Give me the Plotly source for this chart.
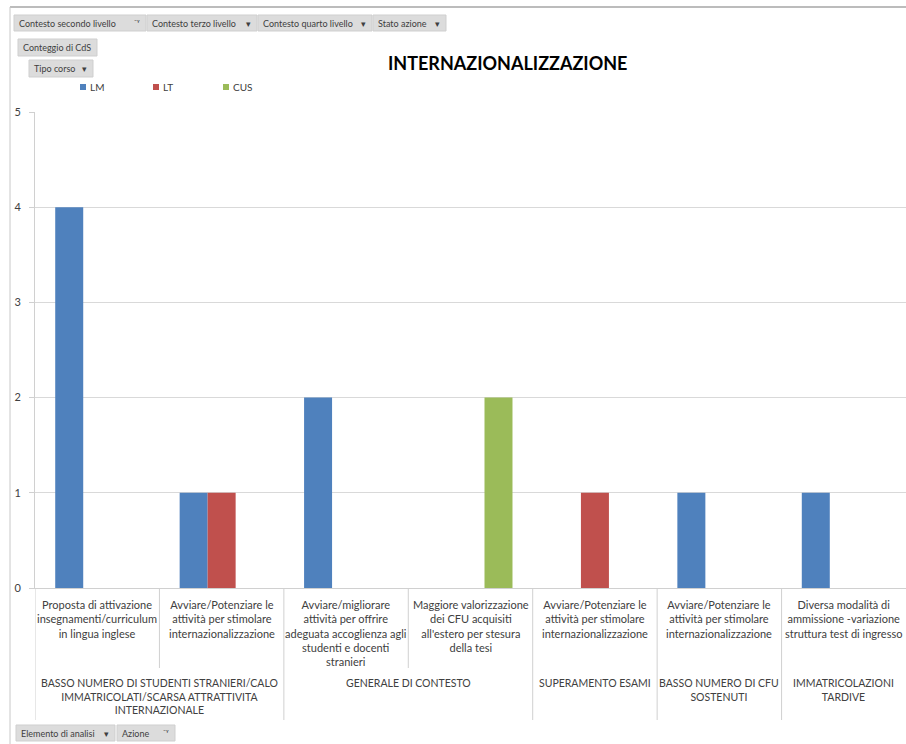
import plotly.graph_objects as go

# ---------------- data ----------------
inner_labels = [
    "Proposta di attivazione<br>insegnamenti/curriculum<br>in lingua inglese",
    "Avviare/Potenziare le<br>attività per stimolare<br>internazionalizzazione",
    "Avviare/migliorare<br>attività per offrire<br>adeguata accoglienza agli<br>studenti e docenti<br>stranieri",
    "Maggiore valorizzazione<br>dei CFU acquisiti<br>all'estero per stesura<br>della tesi",
    "Avviare/Potenziare le<br>attività per stimolare<br>internazionalizzazione",
    "Avviare/Potenziare le<br>attività per stimolare<br>internazionalizzazione",
    "Diversa modalità di<br>ammissione -variazione<br>struttura test di ingresso",
]
outer_labels = [
    "BASSO NUMERO DI STUDENTI STRANIERI/CALO<br>IMMATRICOLATI/SCARSA ATTRATTIVITA<br>INTERNAZIONALE",
    "GENERALE DI CONTESTO",
    "SUPERAMENTO ESAMI",
    "BASSO NUMERO DI CFU<br>SOSTENUTI",
    "IMMATRICOLAZIONI<br>TARDIVE",
]
outer_span = [2, 2, 1, 1, 1]  # number of inner categories per outer group

series_names = ["LM", "LT", "CUS"]
lm_values = [4, 1, 2, None, None, 1, 1]
lt_values = [None, 1, None, None, 1, None, None]
cus_values = [None, None, None, 2, None, None, None]
series_colors = ["#4F81BD", "#C0504D", "#9BBB59"]

y_tick_values = [0, 1, 2, 3, 4, 5]

# ---------------- layout geometry ----------------
W, H = 906, 744
ML, MR, MT, MB = 35, 0, 112, 156
PW, PH = W - ML - MR, H - MT - MB


def px(x):
    return (x - ML) / PW


def py(y):
    return (H - MB - y) / PH


FONT = "Lato, 'Liberation Sans', sans-serif"
xs = list(range(len(inner_labels)))

fig = go.Figure()
for name, vals, col in zip(series_names, [lm_values, lt_values, cus_values], series_colors):
    fig.add_trace(go.Bar(x=xs, y=vals, name=name, marker=dict(color=col, line=dict(width=0)),
                         showlegend=False))

shapes = []
annotations = []

# inner category labels
for i, lab in enumerate(inner_labels):
    annotations.append(dict(x=i, xref="x", y=0, yref="paper", yshift=-8, yanchor="top",
                            text=lab, showarrow=False, align="center",
                            font=dict(family=FONT, size=11, color="#404040")))

# outer labels and dividers
start = 0
outer_bounds = [-0.5]
for lab, span in zip(outer_labels, outer_span):
    center = start + (span - 1) / 2
    annotations.append(dict(x=center, xref="x", y=0, yref="paper", yshift=-87, yanchor="top",
                            text=lab, showarrow=False, align="center",
                            font=dict(family=FONT, size=10.5, color="#404040")))
    start += span
    outer_bounds.append(start - 0.5)

inner_bounds = [b + 0.5 for b in range(len(inner_labels) - 1) if (b + 0.5) not in outer_bounds]
for b in outer_bounds[:-1]:
    shapes.append(dict(type="line", xref="x", yref="paper", x0=b, x1=b, y0=0, y1=py(720),
                       line=dict(color="#D0D0D0", width=1)))
for b in inner_bounds:
    shapes.append(dict(type="line", xref="x", yref="paper", x0=b, x1=b, y0=0, y1=py(668),
                       line=dict(color="#D0D0D0", width=1)))

# outer frame
shapes.append(dict(type="line", xref="paper", yref="paper", x0=px(10), x1=px(906), y0=py(7), y1=py(7),
                   line=dict(color="#A6A6A6", width=1.5)))
shapes.append(dict(type="line", xref="paper", yref="paper", x0=px(10), x1=px(10), y0=py(7), y1=py(744),
                   line=dict(color="#C8C8C8", width=1)))

# field buttons
buttons = [
    ("Contesto secondo livello", 14, 146, 15, 31, "⁻ᵞ"),
    ("Contesto terzo livello", 147, 257, 15, 31, "▾"),
    ("Contesto quarto livello", 258, 372, 15, 31, "▾"),
    ("Stato azione", 373, 446, 15, 31, "▾"),
    ("Conteggio di CdS", 18, 97, 39, 56, ""),
    ("Tipo corso", 29, 93, 60, 77, "▾"),
    ("Elemento di analisi", 16, 115, 725, 741, "▾"),
    ("Azione", 117, 175, 725, 741, "⁻ᵞ"),
]
for text, x0, x1, y0, y1, icon in buttons:
    shapes.append(dict(type="rect", xref="paper", yref="paper", x0=px(x0), x1=px(x1), y0=py(y1), y1=py(y0),
                       fillcolor="#DCDCDC", line=dict(color="#CFCFCF", width=1), layer="below"))
    annotations.append(dict(x=px(x0 + 3), y=py((y0 + y1) / 2), xref="paper", yref="paper",
                            xanchor="left", yanchor="middle", text=text, showarrow=False,
                            font=dict(family=FONT, size=9, color="#404040")))
    if icon:
        annotations.append(dict(x=px(x1 - 4), y=py((y0 + y1) / 2), xref="paper", yref="paper",
                                xanchor="right", yanchor="middle", text=icon, showarrow=False,
                                font=dict(family=FONT, size=9, color="#404040")))

# legend (Excel style)
legend_x = [80, 153, 223]
for name, col, lx in zip(series_names, series_colors, legend_x):
    shapes.append(dict(type="rect", xref="paper", yref="paper", x0=px(lx), x1=px(lx + 6),
                       y0=py(90), y1=py(84), fillcolor=col, line=dict(width=0)))
    annotations.append(dict(x=px(lx + 8), y=py(87), xref="paper", yref="paper", xanchor="left",
                            yanchor="middle", text=name, showarrow=False,
                            font=dict(family=FONT, size=10, color="#404040")))

# title
annotations.append(dict(x=px(507), y=py(63), xref="paper", yref="paper", xanchor="center",
                        yanchor="middle", text="<b>INTERNAZIONALIZZAZIONE</b>", showarrow=False,
                        font=dict(family=FONT, size=18, color="#000000")))

fig.update_layout(
    width=W, height=H,
    margin=dict(l=ML, r=MR, t=MT, b=MB, pad=0),
    paper_bgcolor="white", plot_bgcolor="white",
    barmode="group", bargap=0.325, bargroupgap=0,
    showlegend=False,
    shapes=shapes, annotations=annotations,
    xaxis=dict(range=[-0.5, len(inner_labels) - 0.5], showticklabels=False, ticks="",
               showgrid=False, zeroline=False, showline=True, linecolor="#D0D0D0", linewidth=1,
               fixedrange=True),
    yaxis=dict(range=[0, 5], tickvals=y_tick_values, showgrid=True, gridcolor="#D9D9D9", gridwidth=1,
               zeroline=False, showline=True, linecolor="#D0D0D0", linewidth=1,
               ticks="outside", ticklen=5, tickcolor="#D0D0D0", ticklabelstandoff=6,
               tickfont=dict(family=FONT, size=11, color="#404040"), fixedrange=True),
)

fig.write_html("out.html", config={"displayModeBar": False},
               post_script="document.body.style.margin='0px';document.body.style.overflow='hidden';")
